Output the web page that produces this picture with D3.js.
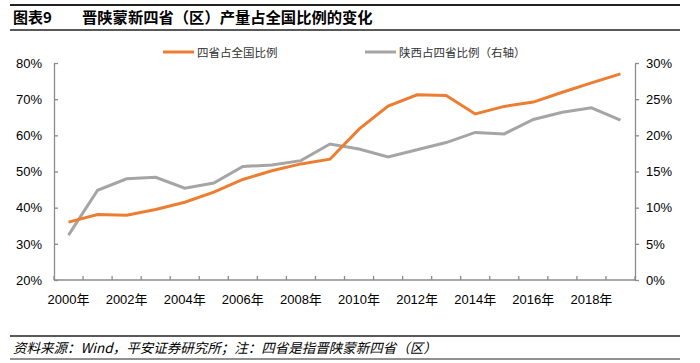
<!DOCTYPE html>
<html>
  <head>
    <meta charset="utf-8">
    <script src="https://d3js.org/d3.v7.min.js"></script>
    <title>晋陕蒙新四省（区）产量占全国比例的变化</title>
    <style>
      body { margin: 0; background: #fff; }
      svg { display: block; }
      .tick text { font-family: "Liberation Sans", Arial, sans-serif; font-size: 13px; fill: #000; }
      .axis path, .axis line { stroke: #8c8c8c; stroke-width: 1.3; }
    </style>
  </head>
  <body>
  <svg width="700" height="363"></svg>

  <script>
      var years = d3.range(2000, 2020).map(String);
      var fourShare = [36.0, 38.1, 37.9, 39.5, 41.5, 44.3, 47.8, 50.2, 52.1, 53.4,
                       61.7, 68.1, 71.2, 71.0, 65.9, 68.0, 69.2, 71.9, 74.5, 77.0];
      var shaanxiShare = [6.2, 12.4, 14.0, 14.2, 12.7, 13.4, 15.7, 15.9, 16.5, 18.8,
                          18.1, 17.0, 18.0, 19.0, 20.4, 20.2, 22.2, 23.2, 23.8, 22.1];
      var leftTicks = [20, 30, 40, 50, 60, 70, 80];
      var rightTicks = [0, 5, 10, 15, 20, 25, 30];

      var svg = d3.select('svg');
      var margin = { left: 54, right: 65, top: 63, bottom: 83 };
      var w = 700, h = 363;
      var innerWidth = w - margin.left - margin.right;
      var innerHeight = h - margin.top - margin.bottom;

      var xScale = d3.scaleBand()
        .domain(years)
        .range([0, innerWidth]);

      var yLeft = d3.scaleLinear().domain([20, 80]).range([innerHeight, 0]);
      var yRight = d3.scaleLinear().domain([0, 30]).range([innerHeight, 0]);

      // title + rules
      svg.append('line').attr('x1', 10).attr('x2', 680).attr('y1', 5).attr('y2', 5)
        .attr('stroke', '#222').attr('stroke-width', 2);
      svg.append('line').attr('x1', 10).attr('x2', 680).attr('y1', 30).attr('y2', 30)
        .attr('stroke', '#222').attr('stroke-width', 1.5);
      svg.append('text').attr('x', 13).attr('y', 23)
        .style('font-family', '"Noto Sans CJK SC", sans-serif')
        .style('font-size', '15px').style('font-weight', 'bold')
        .text('图表9');
      svg.append('text').attr('x', 82).attr('y', 23)
        .style('font-family', '"Noto Sans CJK SC", sans-serif')
        .style('font-size', '15.3px').style('font-weight', 'bold')
        .text('晋陕蒙新四省（区）产量占全国比例的变化');

      var g = svg.append('g')
        .attr('transform', `translate(${margin.left}, ${margin.top})`);

      // x axis: ticks between categories, pointing up
      var xAxis = g.append('g').attr('class', 'axis')
        .attr('transform', `translate(0, ${innerHeight})`);
      xAxis.append('line').attr('x1', 0).attr('x2', innerWidth);
      xAxis.selectAll('.xt').data(years.concat(['end'])).enter().append('line')
        .attr('class', 'xt')
        .attr('x1', (d, i) => i * xScale.bandwidth())
        .attr('x2', (d, i) => i * xScale.bandwidth())
        .attr('y1', 0).attr('y2', -4);
      xAxis.selectAll('text').data(years.filter(d => +d % 2 === 0)).enter().append('text')
        .attr('x', d => xScale(d) + xScale.bandwidth() / 2)
        .attr('y', 24)
        .attr('text-anchor', 'middle')
        .style('font-family', '"Liberation Sans", "Noto Sans CJK SC", sans-serif')
        .style('font-size', '13px')
        .text(d => d + '年');

      g.append('g').attr('class', 'axis')
        .call(d3.axisLeft(yLeft).tickValues(leftTicks).tickFormat(d => d + '%')
          .tickSizeInner(-4).tickSizeOuter(0).tickPadding(12));

      g.append('g').attr('class', 'axis')
        .attr('transform', `translate(${innerWidth}, 0)`)
        .call(d3.axisRight(yRight).tickValues(rightTicks).tickFormat(d => d + '%')
          .tickSizeInner(4).tickSizeOuter(0).tickPadding(7));

      var cx = d => xScale(d) + xScale.bandwidth() / 2;

      g.append('path')
        .datum(shaanxiShare)
        .attr('fill', 'none')
        .attr('stroke', '#a5a5a5')
        .attr('stroke-width', 3)
        .attr('d', d3.line().x((d, i) => cx(years[i])).y(d => yRight(d)));

      g.append('path')
        .datum(fourShare)
        .attr('fill', 'none')
        .attr('stroke', '#ed7d31')
        .attr('stroke-width', 3)
        .attr('d', d3.line().x((d, i) => cx(years[i])).y(d => yLeft(d)));

      // legend
      var legend = [
        { name: '四省占全国比例', color: '#ed7d31', x: 163 },
        { name: '陕西占四省比例（右轴）', color: '#a5a5a5', x: 365 }
      ];
      var lg = svg.selectAll('.legend').data(legend).enter().append('g')
        .attr('class', 'legend');
      lg.append('line')
        .attr('x1', d => d.x).attr('x2', d => d.x + 31)
        .attr('y1', 52).attr('y2', 52)
        .attr('stroke', d => d.color).attr('stroke-width', 3);
      lg.append('text')
        .attr('x', d => d.x + 34).attr('y', 56.5)
        .style('font-family', '"Noto Sans CJK SC", sans-serif')
        .style('font-size', '11.5px').style('fill', '#333')
        .text(d => d.name);

      // footer
      svg.append('line').attr('x1', 10).attr('x2', 680).attr('y1', 336).attr('y2', 336)
        .attr('stroke', '#222').attr('stroke-width', 1.5);
      svg.append('line').attr('x1', 10).attr('x2', 680).attr('y1', 359).attr('y2', 359)
        .attr('stroke', '#222').attr('stroke-width', 1.2);
      svg.append('text').attr('x', 13).attr('y', 352.5)
        .style('font-family', '"Noto Sans CJK SC", sans-serif')
        .style('font-size', '13.5px').style('font-style', 'italic')
        .text('资料来源：Wind，平安证券研究所；注：四省是指晋陕蒙新四省（区）');
  </script>
  </body>
</html>
